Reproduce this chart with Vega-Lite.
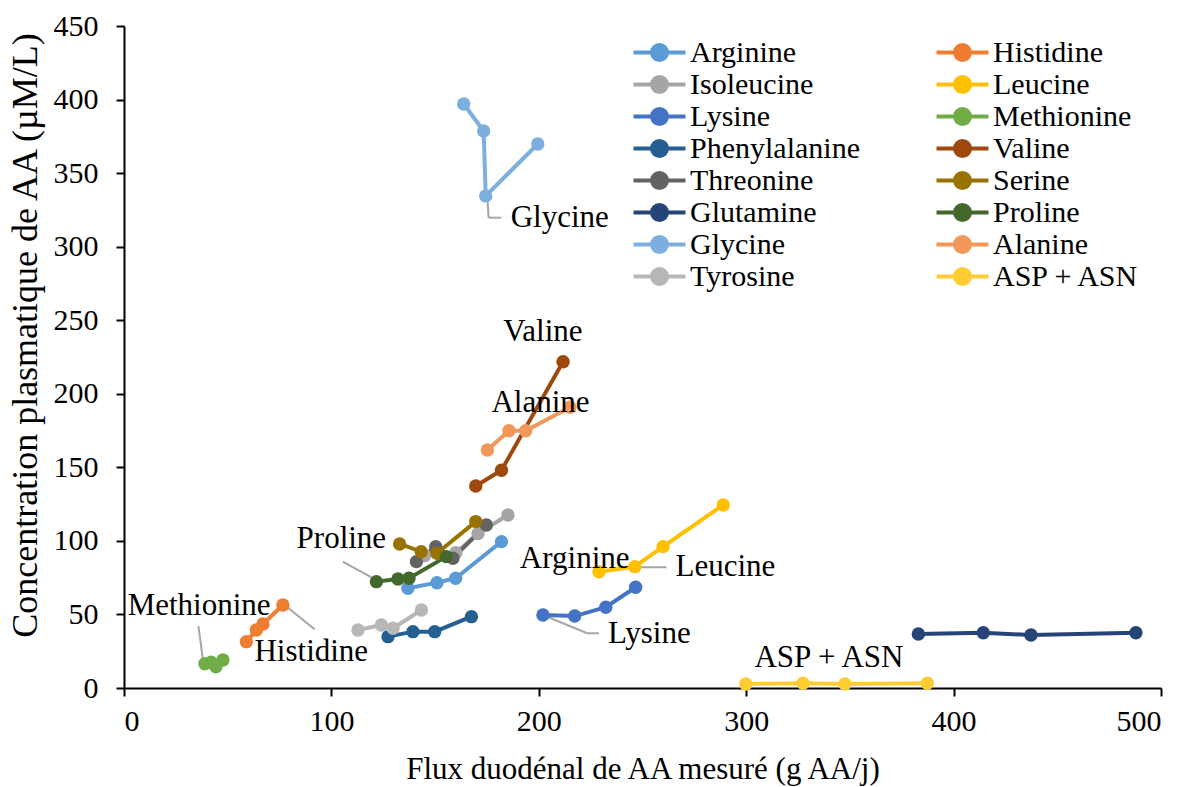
{
  "$schema": "https://vega.github.io/schema/vega-lite/v6.json",
  "width": 1037,
  "height": 662,
  "autosize": "none",
  "padding": {"left": 124, "top": 26, "right": 34, "bottom": 99},
  "background": "white",
  "config": {
    "view": {"stroke": null},
    "font": "'Liberation Serif', 'Times New Roman', 'DejaVu Serif', serif",
    "axis": {
      "grid": false,
      "domainColor": "black",
      "domainWidth": 2,
      "tickColor": "black",
      "tickWidth": 2,
      "tickSize": 8,
      "labelFont": "'Liberation Serif', 'Times New Roman', 'DejaVu Serif', serif",
      "labelFontSize": 30,
      "labelColor": "black",
      "titleFont": "'Liberation Serif', 'Times New Roman', 'DejaVu Serif', serif",
      "titleFontSize": 31,
      "titleFontWeight": "normal",
      "titleColor": "black"
    }
  },
  "datasets": {
    "series": [
      {"aa": "Arginine", "x": 136.9, "y": 67.8}, {"aa": "Arginine", "x": 150.9, "y": 71.6}, {"aa": "Arginine", "x": 159.9, "y": 74.6}, {"aa": "Arginine", "x": 182.0, "y": 99.5},
      {"aa": "Histidine", "x": 59.0, "y": 31.5}, {"aa": "Histidine", "x": 63.8, "y": 39.4}, {"aa": "Histidine", "x": 67.0, "y": 43.5}, {"aa": "Histidine", "x": 76.6, "y": 56.4},
      {"aa": "Isoleucine", "x": 145.0, "y": 90.0}, {"aa": "Isoleucine", "x": 160.0, "y": 92.0}, {"aa": "Isoleucine", "x": 170.7, "y": 105.0}, {"aa": "Isoleucine", "x": 185.1, "y": 117.6},
      {"aa": "Leucine", "x": 229.0, "y": 79.0}, {"aa": "Leucine", "x": 246.3, "y": 82.5}, {"aa": "Leucine", "x": 259.9, "y": 96.1}, {"aa": "Leucine", "x": 288.9, "y": 124.4},
      {"aa": "Lysine", "x": 202.0, "y": 49.6}, {"aa": "Lysine", "x": 217.3, "y": 48.9}, {"aa": "Lysine", "x": 232.3, "y": 54.9}, {"aa": "Lysine", "x": 246.7, "y": 68.5},
      {"aa": "Methionine", "x": 39.0, "y": 16.5}, {"aa": "Methionine", "x": 42.0, "y": 17.5}, {"aa": "Methionine", "x": 44.3, "y": 14.5}, {"aa": "Methionine", "x": 47.7, "y": 19.0},
      {"aa": "Phenylalanine", "x": 127.3, "y": 34.9}, {"aa": "Phenylalanine", "x": 139.3, "y": 38.3}, {"aa": "Phenylalanine", "x": 149.8, "y": 38.3}, {"aa": "Phenylalanine", "x": 167.5, "y": 48.5},
      {"aa": "Valine", "x": 169.6, "y": 137.3}, {"aa": "Valine", "x": 182.0, "y": 148.0}, {"aa": "Valine", "x": 211.7, "y": 221.8},
      {"aa": "Threonine", "x": 141.0, "y": 85.9}, {"aa": "Threonine", "x": 150.3, "y": 96.0}, {"aa": "Threonine", "x": 158.6, "y": 88.2}, {"aa": "Threonine", "x": 174.7, "y": 110.8},
      {"aa": "Serine", "x": 132.9, "y": 97.9}, {"aa": "Serine", "x": 143.3, "y": 92.7}, {"aa": "Serine", "x": 150.9, "y": 91.6}, {"aa": "Serine", "x": 169.6, "y": 113.1},
      {"aa": "Glutamine", "x": 383.0, "y": 36.7}, {"aa": "Glutamine", "x": 414.3, "y": 37.6}, {"aa": "Glutamine", "x": 437.3, "y": 36.0}, {"aa": "Glutamine", "x": 487.9, "y": 37.6},
      {"aa": "Proline", "x": 121.7, "y": 72.3}, {"aa": "Proline", "x": 132.1, "y": 74.1}, {"aa": "Proline", "x": 137.4, "y": 74.6}, {"aa": "Proline", "x": 155.4, "y": 89.3},
      {"aa": "Glycine", "x": 163.8, "y": 397.0}, {"aa": "Glycine", "x": 173.4, "y": 378.6}, {"aa": "Glycine", "x": 174.4, "y": 334.5}, {"aa": "Glycine", "x": 199.5, "y": 369.8},
      {"aa": "Alanine", "x": 175.2, "y": 161.8}, {"aa": "Alanine", "x": 185.6, "y": 174.9}, {"aa": "Alanine", "x": 193.7, "y": 174.9}, {"aa": "Alanine", "x": 215.0, "y": 190.8},
      {"aa": "Tyrosine", "x": 112.8, "y": 39.4}, {"aa": "Tyrosine", "x": 124.1, "y": 42.8}, {"aa": "Tyrosine", "x": 129.7, "y": 40.6}, {"aa": "Tyrosine", "x": 143.4, "y": 53.0},
      {"aa": "ASP + ASN", "x": 299.8, "y": 2.7}, {"aa": "ASP + ASN", "x": 327.4, "y": 3.2}, {"aa": "ASP + ASN", "x": 347.6, "y": 2.7}, {"aa": "ASP + ASN", "x": 387.3, "y": 3.2}
    ],
    "leaders": [
      {"x": 175.2, "y": 334.0, "x2": 175.8, "y2": 319.7},
      {"x": 175.8, "y": 319.7, "x2": 182.0, "y2": 319.7},
      {"x": 105.5, "y": 85.9, "x2": 121.7, "y2": 73.4},
      {"x": 35.9, "y": 42.1, "x2": 38.3, "y2": 16.8},
      {"x": 77.4, "y": 56.4, "x2": 91.9, "y2": 39.9},
      {"x": 246.3, "y": 82.0, "x2": 261.5, "y2": 82.0},
      {"x": 202.0, "y": 49.6, "x2": 223.3, "y2": 37.2},
      {"x": 223.3, "y": 37.2, "x2": 229.0, "y2": 37.2}
    ],
    "labels": [
      {"label": "Glycine", "x": 210.1, "y": 319.3},
      {"label": "Valine", "x": 202.0, "y": 242.2},
      {"label": "Alanine", "x": 200.8, "y": 194.0},
      {"label": "Proline", "x": 104.8, "y": 101.4},
      {"label": "Methionine", "x": 36.2, "y": 55.7},
      {"label": "Histidine", "x": 90.3, "y": 24.7},
      {"label": "Arginine", "x": 217.3, "y": 87.7},
      {"label": "Leucine", "x": 290.0, "y": 82.5},
      {"label": "Lysine", "x": 253.3, "y": 36.7},
      {"label": "ASP + ASN", "x": 339.9, "y": 20.2}
    ]
  },
  "layer": [
    {
      "data": {"name": "leaders"},
      "mark": {"type": "rule", "color": "#A6A6A6", "strokeWidth": 2},
      "encoding": {
        "x": {"field": "x", "type": "quantitative", "scale": {"domain": [0, 500], "nice": false},
          "axis": {"values": [0, 100, 200, 300, 400, 500], "title": "Flux duodénal de AA mesuré (g AA/j)", "labelPadding": 10, "titlePadding": 18}},
        "y": {"field": "y", "type": "quantitative", "scale": {"domain": [0, 450], "nice": false},
          "axis": {"values": [0, 50, 100, 150, 200, 250, 300, 350, 400, 450], "title": "Concentration plasmatique de AA (µM/L)", "labelPadding": 18, "titlePadding": 9, "titleFontSize": 36, "titleY": 309}},
        "x2": {"field": "x2"},
        "y2": {"field": "y2"}
      }
    },
    {
      "data": {"name": "series"},
      "mark": {"type": "line", "strokeWidth": 4, "point": {"filled": true, "size": 180, "opacity": 1}},
      "encoding": {
        "x": {"field": "x", "type": "quantitative"},
        "y": {"field": "y", "type": "quantitative"},
        "color": {
          "field": "aa", "type": "nominal",
          "scale": {
            "domain": ["Arginine", "Isoleucine", "Lysine", "Phenylalanine", "Threonine", "Glutamine", "Glycine", "Tyrosine", "Histidine", "Leucine", "Methionine", "Valine", "Serine", "Proline", "Alanine", "ASP + ASN"],
            "range": ["#5B9BD5", "#A5A5A5", "#4472C4", "#255E91", "#636363", "#264478", "#7CAFDD", "#B7B7B7", "#ED7D31", "#FFC000", "#70AD47", "#9E480E", "#997300", "#43682B", "#F1975A", "#FFCD33"]
          },
          "legend": {
            "title": null,
            "orient": "none",
            "legendX": 519,
            "legendY": 10,
            "padding": 0,
            "columns": 2,
            "columnPadding": 68,
            "rowPadding": 0,
            "symbolType": "M-1.793,0L1.793,0M-0.517,0A0.517,0.517,0,1,1,0.517,0A0.517,0.517,0,1,1,-0.517,0Z",
            "symbolSize": 841,
            "symbolStrokeWidth": 4,
            "labelFont": "'Liberation Serif', 'Times New Roman', 'DejaVu Serif', serif",
            "labelFontSize": 30,
            "labelColor": "black",
            "labelOffset": 14,
            "labelLimit": 400,
            "encode": {
              "symbols": {"update": {
                "fill": {"scale": "color", "field": "value"},
                "stroke": {"scale": "color", "field": "value"},
                "strokeWidth": {"value": 4},
                "opacity": {"value": 1}
              }}
            }
          }
        }
      }
    },
    {
      "data": {"name": "labels"},
      "mark": {"type": "text", "font": "'Liberation Serif', 'Times New Roman', 'DejaVu Serif', serif", "fontSize": 31, "color": "black", "align": "center", "baseline": "middle"},
      "encoding": {
        "x": {"field": "x", "type": "quantitative"},
        "y": {"field": "y", "type": "quantitative"},
        "text": {"field": "label"}
      }
    }
  ]
}
